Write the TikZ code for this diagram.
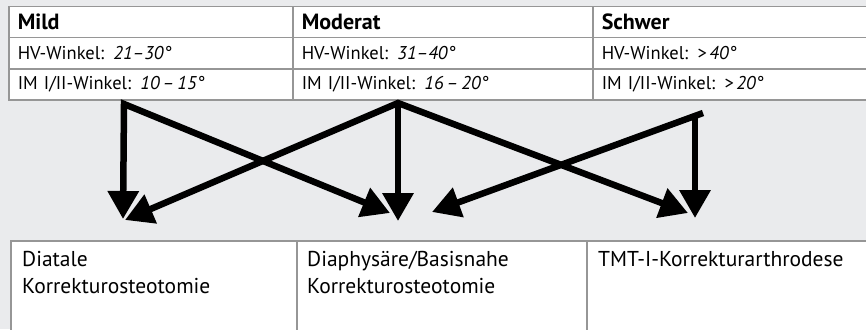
\documentclass[tikz,border=0pt]{standalone}
\usepackage{fontspec}
\setmainfont{PT Sans}
\usetikzlibrary{arrows.meta,positioning}
\definecolor{bgrey}{RGB}{234,235,237}
\definecolor{tabline}{RGB}{150,150,150}
\tikzset{
  cell/.style={draw=tabline,line width=1.5pt,fill=white,anchor=north west,
    inner xsep=9pt,inner ysep=0pt,align=left,minimum height=31pt},
  head/.style={cell,font=\fontsize{22}{24}\selectfont\bfseries},
  row/.style={cell,font=\fontsize{18.5}{21}\selectfont},
  box/.style={draw=tabline,line width=1.5pt,fill=white,anchor=north west,
    minimum height=110pt},
  boxtext/.style={anchor=north west,inner sep=0pt,align=left,
    font=\fontsize{21.5}{27}\selectfont},
  fat/.style={line width=6.5pt,-{Triangle[length=28pt,width=30pt]}},
}
\begin{document}
\begin{tikzpicture}[x=1pt,y=-1pt]
\useasboundingbox[fill=bgrey] (0,0) rectangle (866,329);
% table of the grades
\node[head,text width=266pt] (mild) at (8,6) {Mild};
\node[head,text width=282pt] (mod) at (292,6) {Moderat};
\node[head,text width=270pt] (schw) at (592,6) {Schwer};
\node[row,text width=266pt] (hv1) at (8,37) {HV-Winkel: \textit{21–30°}};
\node[row,text width=282pt] (hv2) at (292,37) {HV-Winkel: \textit{31–40°}};
\node[row,text width=270pt] (hv3) at (592,37) {HV-Winkel: \textit{>\,40°}};
\node[row,text width=266pt] (im1) at (8,68) {IM I/II-Winkel: \textit{10\,–\,15°}};
\node[row,text width=282pt] (im2) at (292,68) {IM I/II-Winkel: \textit{16\,–\,20°}};
\node[row,text width=270pt] (im3) at (592,68) {IM I/II-Winkel: \textit{>\,20°}};
% therapy boxes
\node[box,minimum width=286pt] (dist) at (10,240) {};
\node[box,minimum width=290pt] (diaph) at (296,240) {};
\node[box,minimum width=300pt] (tmt) at (586,240) {};
\node[boxtext,below right=11pt and 12pt of dist.north west] (tdist)
  {Diatale\\Korrekturosteotomie};
\node[boxtext,below right=11pt and 11pt of diaph.north west] (tdiaph)
  {Diaphysäre/Basisnahe\\Korrekturosteotomie};
\node[boxtext,below right=11pt and 12pt of tmt.north west] (ttmt)
  {TMT-I-Korrekturarthrodese};
% arrow ends
\coordinate (om) at (124,104);
\coordinate (oo) at (398,103);
\coordinate (os) at (703,113);
\coordinate (osv) at (695,116);
\coordinate (m1) at (123,219);
\coordinate (m2) at (390,213);
\coordinate (o1) at (125,220);
\coordinate (o2) at (398,221);
\coordinate (o3) at (688,213);
\coordinate (s2) at (432,212);
\coordinate (s3) at (695,218);
% arrows
\draw[fat,{Triangle[length=28pt,width=30pt]}-{Triangle[length=28pt,width=30pt]}] (m1) -- (om) -- (m2);
\draw[fat,{Triangle[length=28pt,width=30pt]}-{Triangle[length=28pt,width=30pt]}] (o1) -- (oo) -- (o3);
\draw[fat] (oo) -- (o2);
\draw[fat] (os) -- (s2);
\draw[fat] (osv) -- (s3);
\end{tikzpicture}
\end{document}
